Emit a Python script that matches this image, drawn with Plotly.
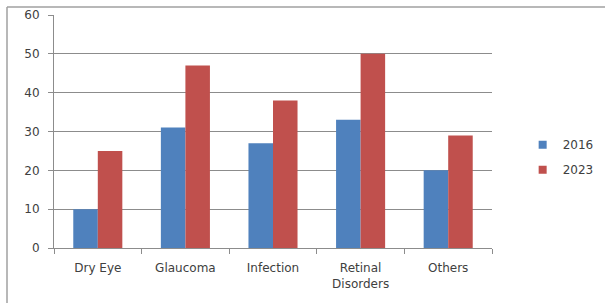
import plotly.graph_objects as go

categories = ["Dry Eye", "Glaucoma", "Infection", "Retinal<br>Disorders", "Others"]
series_names = ["2016", "2023"]
values_2016 = [10, 31, 27, 33, 20]
values_2023 = [25, 47, 38, 50, 29]
y_ticks = [0, 10, 20, 30, 40, 50, 60]

colors = ["#4F81BD", "#C0504D"]
font_family = "DejaVu Sans"
text_color = "#404040"
grid_color = "#8C8C8C"

fig = go.Figure()
for name, vals, col in zip(series_names, [values_2016, values_2023], colors):
    fig.add_trace(go.Bar(x=categories, y=vals, name=name, marker_color=col,
                         marker_line_width=0, showlegend=False))
    fig.add_trace(go.Scatter(x=[None], y=[None], mode="markers", name=name,
                             marker=dict(symbol="square", size=8, color=col),
                             legendgroup=name, showlegend=True))

fig.update_layout(
    width=605, height=303,
    margin=dict(l=54, r=113, t=15, b=55, autoexpand=False),
    paper_bgcolor="white", plot_bgcolor="white",
    barmode="group", bargap=0.44, bargroupgap=0,
    font=dict(family=font_family, size=12, color=text_color),
    legend=dict(x=1.07, y=0.39, xanchor="left", yanchor="middle",
                font=dict(size=12, color=text_color),
                traceorder="grouped", tracegroupgap=6,
                itemwidth=30, bgcolor="rgba(0,0,0,0)"),
    xaxis=dict(showline=True, linecolor=grid_color, linewidth=1,
               ticks="outside", tickson="boundaries", ticklen=5,
               tickcolor=grid_color, showgrid=False, automargin=False,
               ticklabelstandoff=9, tickfont=dict(size=12)),
    yaxis=dict(range=[0, 60], tickvals=y_ticks, showline=True,
               linecolor=grid_color, linewidth=1, ticks="outside",
               ticklen=5, tickcolor=grid_color, showgrid=True,
               gridcolor=grid_color, gridwidth=1, zeroline=False,
               automargin=False, ticklabelstandoff=6,
               tickfont=dict(size=12)),
    shapes=[
        dict(type="line", xref="paper", yref="paper", x0=-0.1073, x1=1.3,
             y0=1.0343, y1=1.0343, line=dict(color="#A0A0A0", width=1.5)),
        dict(type="line", xref="paper", yref="paper", x0=-0.1073, x1=-0.1073,
             y0=1.0343, y1=-0.3, line=dict(color="#A0A0A0", width=1.5)),
    ],
)

fig.write_html("out.html", config={"displayModeBar": False},
               post_script="document.body.style.margin='0';document.body.style.overflow='hidden';")
